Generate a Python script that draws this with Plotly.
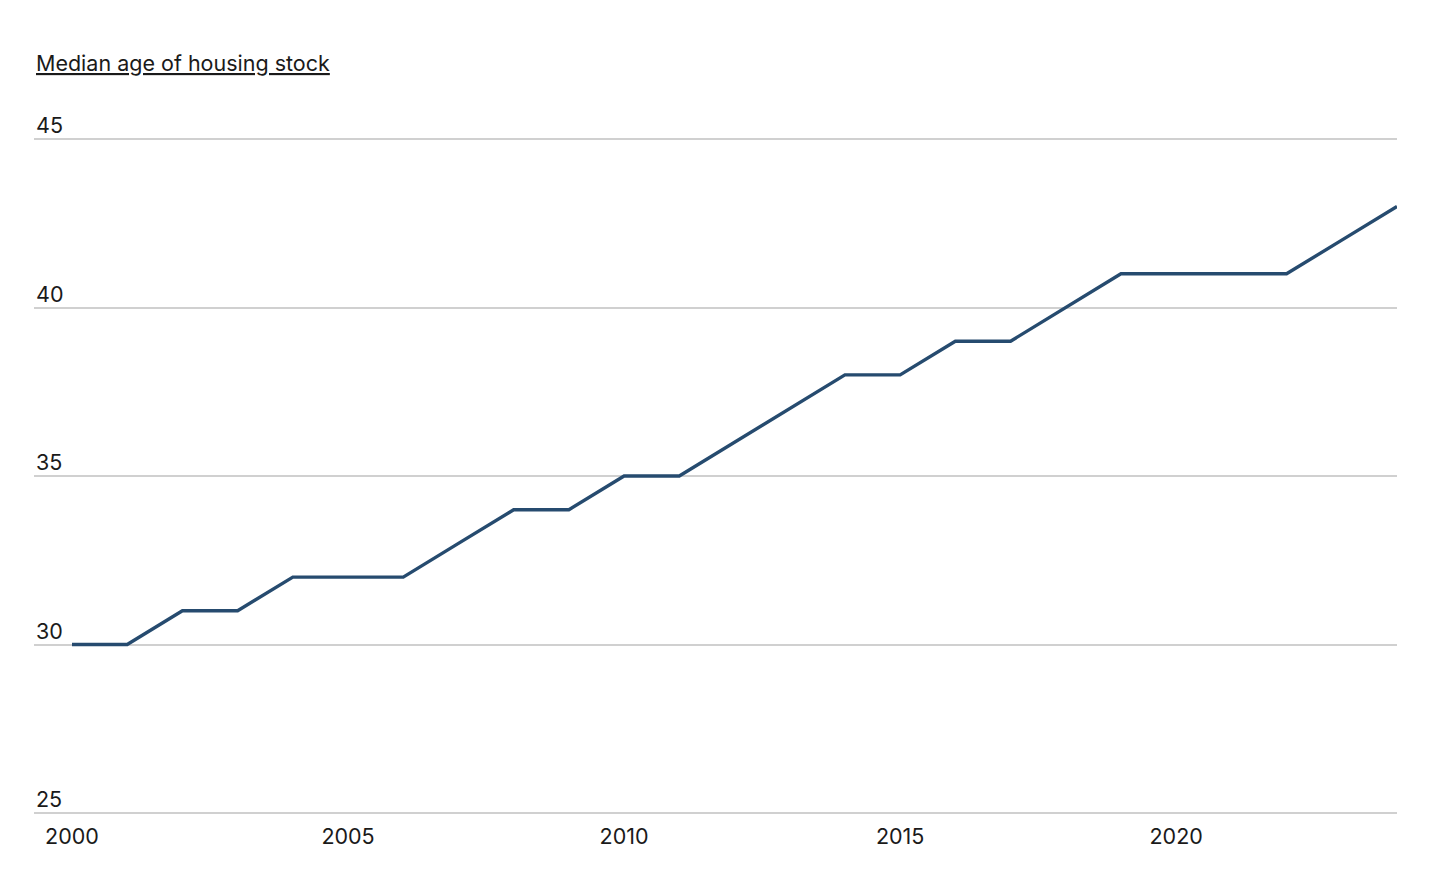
import plotly.graph_objects as go

years = list(range(2000, 2025))
median_age = [30, 30, 31, 31, 32, 32, 32, 33, 34, 34, 35, 35, 36, 37, 38, 38, 39, 39, 40, 41, 41, 41, 41, 42, 43]
y_ticks = [25, 30, 35, 40, 45]
x_ticks = [2000, 2005, 2010, 2015, 2020]
title_text = "Median age of housing stock"

W, H = 1450, 875
ml, mr, mt, mb = 34, 53, 137, 60
plot_h = H - mt - mb
px_per_year = (1397 - 72) / 24
x_left = 2000 - (72 - ml) / px_per_year
px_per_unit = (813 - 139) / 20
eps_top = (139 - mt) / px_per_unit
eps_bot = (H - mb - 813) / px_per_unit

fig = go.Figure()
fig.add_trace(go.Scatter(
    x=years, y=median_age, mode="lines",
    line=dict(color="#264b6f", width=3.4),
    hoverinfo="x+y",
))

font = dict(family="Inter, sans-serif", size=21.5, color="#1a1a1a")

annotations = [dict(
    text="<u>" + title_text + "</u>", xref="paper", yref="paper",
    x=0, y=1 + (mt - 63) / plot_h, xanchor="left", yanchor="middle",
    showarrow=False, font=font,
)]
for v in y_ticks:
    annotations.append(dict(
        text=str(v), xref="paper", yref="y", x=0, y=v,
        xanchor="left", yanchor="middle", yshift=14, xshift=0,
        showarrow=False, font=font,
    ))

fig.update_layout(
    width=W, height=H,
    margin=dict(l=ml, r=mr, t=mt, b=mb),
    paper_bgcolor="white", plot_bgcolor="white",
    showlegend=False,
    font=font,
    xaxis=dict(
        range=[x_left, 2024], tickvals=x_ticks, showgrid=False,
        zeroline=False, showline=False, ticks="", tickfont=font,
        ticklabelstandoff=6, fixedrange=True,
    ),
    yaxis=dict(
        range=[25 - eps_bot, 45 + eps_top], tickvals=y_ticks, showgrid=True,
        gridcolor="#d0d0d0", gridwidth=1.6, zeroline=False, showline=False,
        ticks="", showticklabels=False, fixedrange=True,
    ),
    annotations=annotations,
)

fig.write_html("out.html")
